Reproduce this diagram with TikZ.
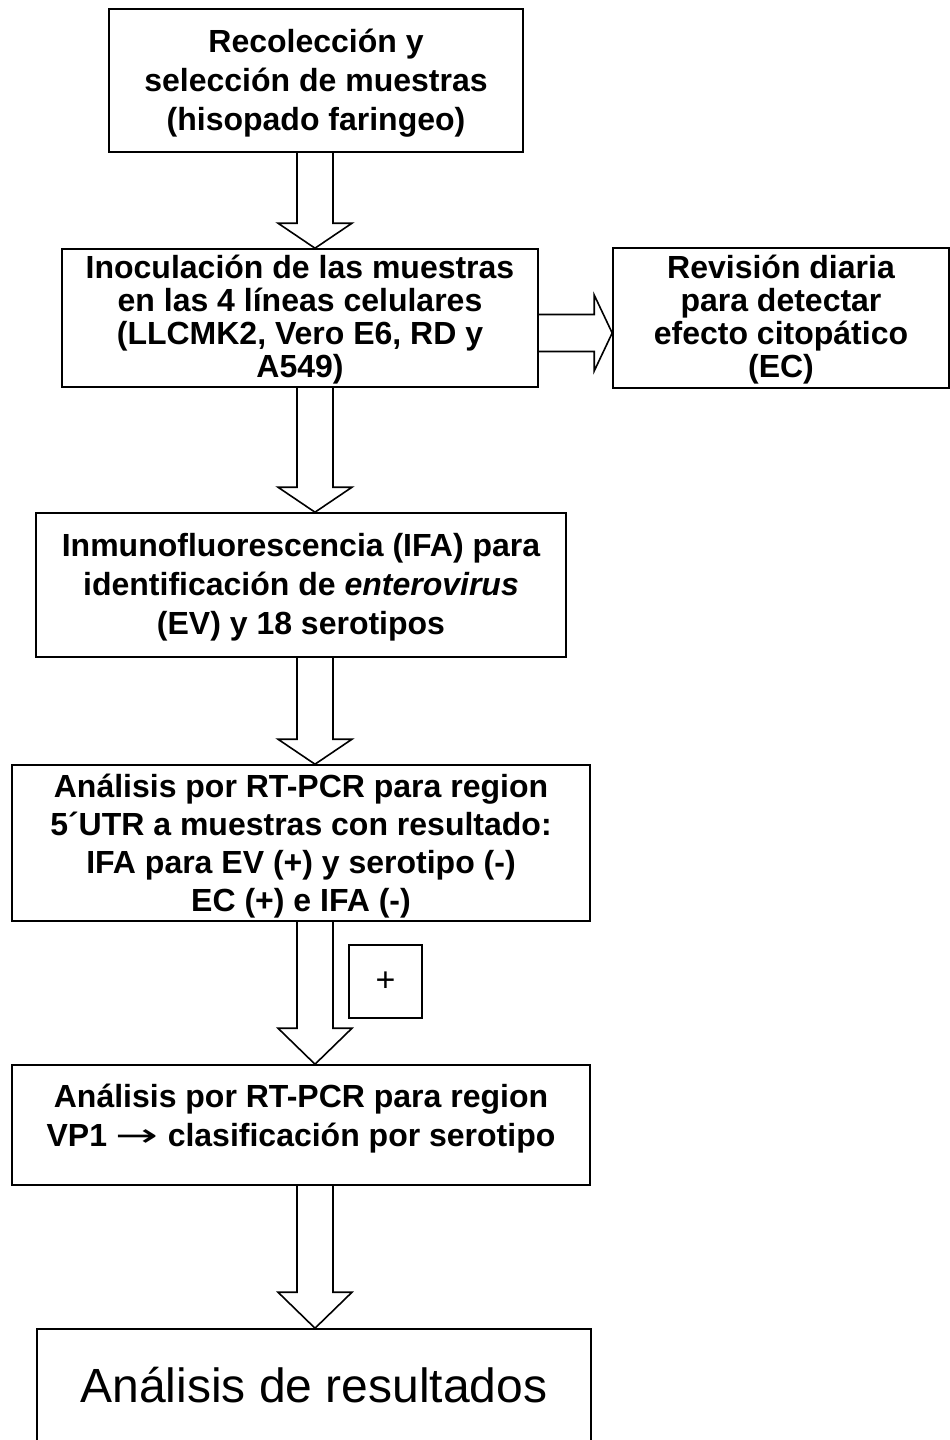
\documentclass[tikz,border=0pt]{standalone}
\usepackage{fontspec}
\setmainfont{Liberation Sans}
\newfontfamily\dejavu{DejaVu Sans}
\usetikzlibrary{calc}
\tikzset{
  box/.style={draw, line width=1.6pt, rectangle, inner sep=0pt},
  btxt/.style={align=center, font=\fontsize{32}{39}\selectfont\bfseries},
  tighttxt/.style={align=center, font=\fontsize{32}{33}\selectfont\bfseries},
  arr/.style={draw, line width=1.6pt, line join=miter},
}
\newcommand{\blkdown}[3]{%
  \draw[arr] let \p1=(#1), \p2=(#2) in
    ({\x1-18pt},\y1) -- ({\x1-18pt},{\y2+#3}) -- ({\x1-37pt},{\y2+#3}) --
    (\x1,\y2) -- ({\x1+37pt},{\y2+#3}) -- ({\x1+18pt},{\y2+#3}) -- ({\x1+18pt},\y1);
}
\begin{document}
\begin{tikzpicture}[x=1pt,y=-1pt]
\useasboundingbox (0,0) rectangle (950,1440);
\coordinate (ax) at (315,0);
\coordinate (ay) at (0,333);
% boxes
\node[box, minimum width=414pt, minimum height=143pt] (b1) at (316,80.5) {};
\node[btxt] (t1) at (316,83) {Recolección y\\selección de muestras\\(hisopado faringeo)};
\node[box, minimum width=476pt, minimum height=138pt] (b2) at (300,318) {};
\node[tighttxt] (t2) at (300,320) {Inoculación de las muestras\\en las 4 líneas celulares\\(LLCMK2, Vero E6, RD y\\A549)};
\node[box, minimum width=336pt, minimum height=140pt] (b3) at (781,318) {};
\node[tighttxt] (t3) at (781,320) {Revisión diaria\\para detectar\\efecto citopático\\(EC)};
\node[box, minimum width=530pt, minimum height=144pt] (b4) at (301,585) {};
\node[btxt] (t4) at (301,587) {Inmunofluorescencia (IFA) para\\identificación de \textit{enterovirus}\\(EV) y 18 serotipos};
\node[box, minimum width=578pt, minimum height=156pt] (b5) at (301,843) {};
\node[align=center, font=\fontsize{32}{38}\selectfont\bfseries] (t5) at (301,846)
  {Análisis por RT-PCR para region\\5´UTR a muestras con resultado:\\IFA para EV (+) y serotipo (-)\\EC (+) e IFA (-)};
\node[box, minimum width=578pt, minimum height=120pt] (b6) at (301,1125) {};
\node[btxt] (t6) at (301,1119) {Análisis por RT-PCR para region\\VP1 {\mdseries\dejavu\scalebox{1.6}[1]{→}} clasificación por serotipo};
\node[box, minimum width=554pt, minimum height=240pt] (b7) at (314,1449) {};
\node[font=\fontsize{48}{56}\selectfont] (t7) at (314,1385) {Análisis de resultados};
\node[box, minimum width=73pt, minimum height=73pt, font=\fontsize{34}{38}\selectfont] (pl) at (385.5,981.5) {+};
% arrows
\blkdown{ax |- b1.south}{ax |- b2.north}{25pt}
\blkdown{ax |- b2.south}{ax |- b4.north}{25pt}
\blkdown{ax |- b4.south}{ax |- b5.north}{25pt}
\blkdown{ax |- b5.south}{ax |- b6.north}{36pt}
\blkdown{ax |- b6.south}{ax |- b7.north}{36pt}
\draw[arr] let \p1=(ay -| b2.east), \p2=(ay -| b3.west) in
  (\x1,{\y1+18.5pt}) -- ({\x2-18pt},{\y1+18.5pt}) -- ({\x2-18pt},{\y1+38pt}) --
  (\x2,\y2) -- ({\x2-18pt},{\y1-38pt}) -- ({\x2-18pt},{\y1-18.5pt}) -- (\x1,{\y1-18.5pt});
\end{tikzpicture}
\end{document}
